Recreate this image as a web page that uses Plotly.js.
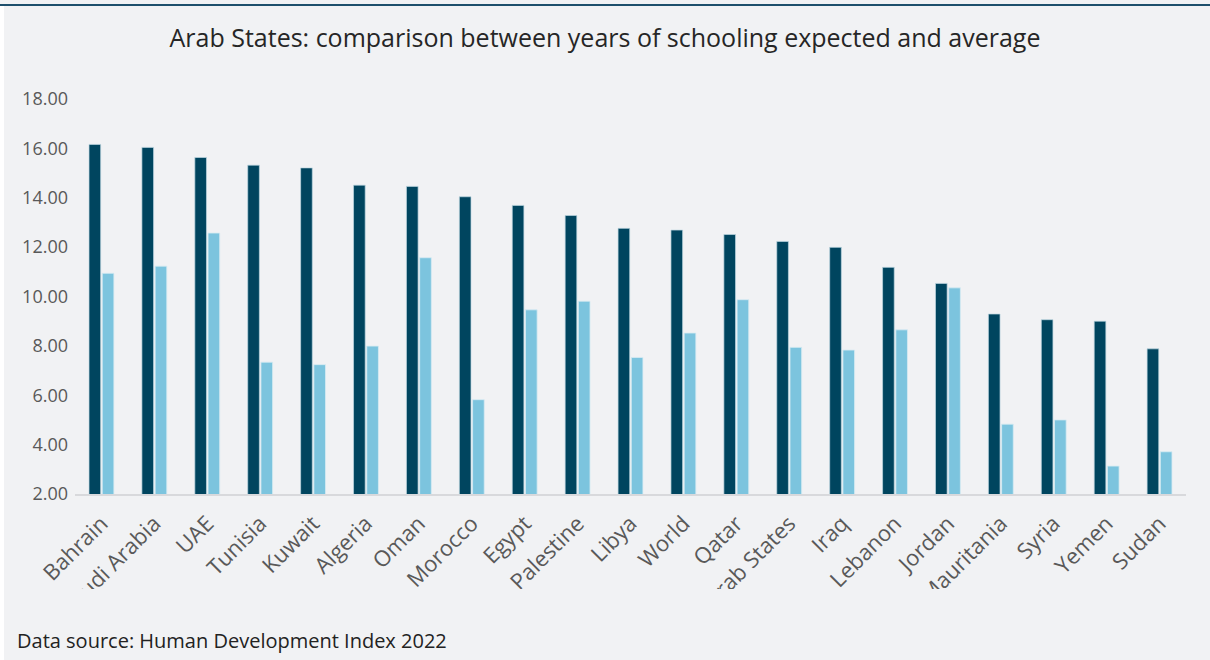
<!DOCTYPE html>
<html>
<head>
<meta charset="utf-8">
<script src="https://cdn.plot.ly/plotly-3.0.1.min.js"></script>
<style>html,body{margin:0;padding:0;background:#f1f2f4;}</style>
</head>
<body>
<div id="chart" style="width:1210px;height:660px;"></div>
<script>
const countries = ["Bahrain","Saudi Arabia","UAE","Tunisia","Kuwait","Algeria","Oman","Morocco","Egypt","Palestine","Libya","World","Qatar","Arab States","Iraq","Lebanon","Jordan","Mauritania","Syria","Yemen","Sudan"];
const expectedYears = [16.16,16.04,15.63,15.32,15.21,14.51,14.46,14.04,13.69,13.28,12.76,12.69,12.51,12.23,11.99,11.18,10.53,9.29,9.06,9.00,7.88];
const meanYears = [10.94,11.23,12.57,7.34,7.24,7.99,11.57,5.82,9.46,9.81,7.53,8.52,9.87,7.94,7.83,8.65,10.35,4.83,5.00,3.13,3.71];
const yTicks = [2,4,6,8,10,12,14,16,18];
const titleText = "Arab States: comparison between years of schooling expected and average";
const sourceText = "Data source: Human Development Index 2022";

const W = 1210, H = 660;
const mL = 75, mR = 24, mT = 99, mB = 166;
const plotW = W - mL - mR, plotH = H - mT - mB;
const px = x => (x - mL) / plotW;
const py = y => (H - mB - y) / plotH;
const bg = '#f1f2f4';

const traces = [
  {type:'bar', name:'Expected years of schooling', x:countries, y:expectedYears,
   marker:{color:'#00455f', line:{color:'rgba(190,215,225,0.7)', width:1}}, hoverinfo:'x+y'},
  {type:'bar', name:'Mean years of schooling', x:countries, y:meanYears,
   marker:{color:'#7cc4de', line:{color:'rgba(215,235,243,0.8)', width:1}}, hoverinfo:'x+y'}
];

const layout = {
  width:W, height:H,
  margin:{l:mL, r:mR, t:mT, b:mB, pad:0},
  paper_bgcolor:bg, plot_bgcolor:bg,
  showlegend:false,
  barmode:'group', bargap:0.5, bargroupgap:0.12,
  font:{family:'"Open Sans", sans-serif', color:'#595959'},
  title:{text:titleText, x:0.5, xanchor:'center', xref:'container',
         y:1-38/H, yref:'container', yanchor:'middle',
         font:{family:'"Open Sans", sans-serif', size:25, color:'#262626'}},
  xaxis:{type:'category', showline:true, linecolor:'#d8d9dc', linewidth:2,
         ticks:'', showgrid:false, zeroline:false, tickangle:-45,
         ticklabelstandoff:6,
         tickfont:{size:22, color:'#595959'}},
  yaxis:{range:[2,18], tickvals:yTicks, tickformat:'.2f', showgrid:false,
         zeroline:false, showline:false, ticks:'', ticklabelstandoff:6,
         tickfont:{size:18, color:'#595959'}},
  shapes:[
    {type:'rect', xref:'paper', yref:'paper', x0:px(0), x1:px(W), y0:py(589), y1:py(626),
     fillcolor:bg, line:{width:0}, layer:'above'},
    {type:'line', xref:'paper', yref:'paper', x0:px(0), x1:px(W), y0:py(5), y1:py(5),
     line:{color:'#1d4f6c', width:2}, layer:'above'},
    {type:'rect', xref:'paper', yref:'paper', x0:px(0), x1:px(4), y0:py(6), y1:py(H),
     fillcolor:'#ffffff', line:{width:0}, layer:'above'}
  ],
  annotations:[
    {text:sourceText, xref:'paper', yref:'paper', x:px(15), y:py(640),
     xanchor:'left', yanchor:'middle', showarrow:false,
     font:{size:20, color:'#222222', family:'"Open Sans", sans-serif'}}
  ]
};

Plotly.newPlot('chart', traces, layout, {displayModeBar:false, staticPlot:true});
</script>
</body>
</html>
